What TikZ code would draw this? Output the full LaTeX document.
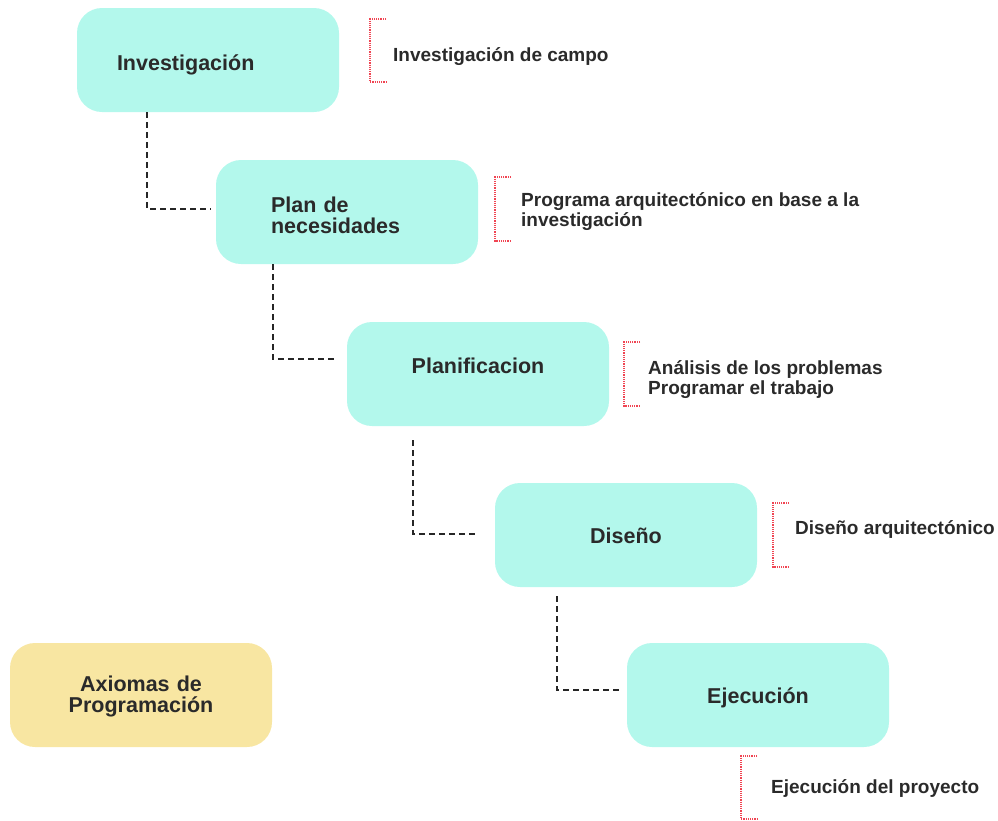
\documentclass[tikz,border=0pt]{standalone}
\usepackage{fontspec}
\setmainfont{Liberation Sans}

\definecolor{cajaturq}{HTML}{B3F8EC}
\definecolor{cajaamar}{HTML}{F8E6A2}
\definecolor{textoosc}{HTML}{2A2A2A}
\definecolor{rojopunto}{HTML}{F04452}

\tikzset{
  etapa/.style={rounded corners=25pt, fill=cajaturq, minimum width=262pt, minimum height=104pt,
    inner sep=0pt, text width=262pt, align=center, text=textoosc,
    text height=16pt, text depth=0pt,
    font=\fontsize{21.5}{21}\selectfont\bfseries},
  nota/.style={anchor=base west, inner sep=0pt, align=left, text=textoosc,
    font=\fontsize{19}{20}\selectfont\bfseries},
  enlace/.style={draw=black!85, line width=1.7pt, dash pattern=on 6pt off 4pt},
  corchete/.style={draw=rojopunto, line width=1.6pt, dash pattern=on 1.2pt off 1pt}
}

\begin{document}
\begin{tikzpicture}[x=1pt, y=-1pt]
  \useasboundingbox (0,0) rectangle (998,820);

  % cajas de las etapas
  \node[etapa, align=left, text width=182pt, inner xsep=40pt, text height=20pt] (inv) at (208,60) {Investigación};
  \node[etapa, align=left, text width=152pt, inner xsep=55pt, text height=21pt, text depth=21pt] (plan) at (347,212) {Plan de\\necesidades};
  \node[etapa, text height=15pt, text depth=17pt] (planif) at (478,374) {Planificacion};
  \node[etapa] (dis) at (626,535) {Diseño};
  \node[etapa] (ejec) at (758,695) {Ejecución};
  \node[etapa, fill=cajaamar, text height=17pt, text depth=25pt] (axi) at (141,695) {Axiomas de\\Programación};

  % enlaces punteados
  \coordinate (c1) at (147,209);
  \coordinate (c2) at (273,359);
  \coordinate (c3) at (413,534);
  \coordinate (c4) at (557,690);
  \draw[enlace] (inv.south -| c1) -- (c1) -- ([xshift=-5pt]plan.west |- c1);
  \draw[enlace] (plan.south -| c2) -- (c2) -- ([xshift=-10pt]planif.west |- c2);
  \draw[enlace] ([yshift=-14pt]planif.south -| c3) -- (c3) -- ([xshift=-18pt]dis.west |- c3);
  \draw[enlace] ([yshift=-9pt]dis.south -| c4) -- (c4) -- ([xshift=-7pt]ejec.west |- c4);

  % notas
  \node[nota] (invN) at (393,61) {Investigación de campo};
  \node[nota] (planN) at (521,226) {Programa arquitectónico en base a la\\investigación};
  \node[nota] (planifN) at (648,394) {Análisis de los problemas\\Programar el trabajo};
  \node[nota] (disN) at (795,534) {Diseño arquitectónico};
  \node[nota] (ejecN) at (771,793) {Ejecución del proyecto};

  % corchetes rojos
  \foreach \x/\ya/\yb in {370/19/82, 495/177/241, 624/342/406, 773/503/567, 741/756/819}
    \draw[corchete] (\x+16,\ya) -- (\x,\ya) -- (\x,\yb) -- (\x+16,\yb);
\end{tikzpicture}
\end{document}
